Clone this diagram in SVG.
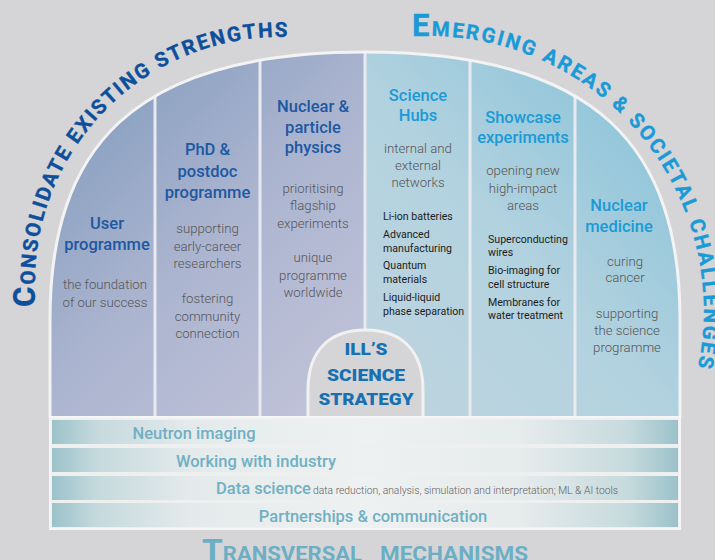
<svg xmlns="http://www.w3.org/2000/svg" width="715" height="560" viewBox="0 0 715 560">
  <defs>
    <style>
      text { font-family: Roboto, "Open Sans", "DejaVu Sans", sans-serif; }
      .ttlL { font-size: 16.5px; font-weight: 500; fill: #1d58a2; text-anchor: middle; }
      .ttlR { font-size: 16.5px; font-weight: 500; fill: #1b9ad6; text-anchor: middle; }
      .grey { font-size: 13.2px; font-weight: 300; fill: #565656; text-anchor: middle; }
      .list { font-size: 10.6px; font-weight: 400; fill: #1c1c1c; }
      .bar  { font-size: 16.5px; font-weight: 500; fill: #70b0c3; text-anchor: middle; }
      .note { font-size: 11px; font-weight: 300; fill: #5e5e5e; }
      .arcL { font-weight: 700; fill: #0e4f9c; stroke: #0e4f9c; stroke-width: 0.35; }
      .arcR { font-weight: 700; fill: #1a9ad7; stroke: #1a9ad7; stroke-width: 0.35; }
      .dome { font-size: 17px; font-weight: 900; fill: #1670b2; text-anchor: middle; }
      .sep  { stroke: #e8eaef; stroke-width: 3; }
    </style>
    <linearGradient id="gradLeft" gradientUnits="userSpaceOnUse" x1="60" y1="110" x2="360" y2="420">
      <stop offset="0" stop-color="#859ebf"/>
      <stop offset="0.45" stop-color="#abb4cf"/>
      <stop offset="1" stop-color="#c3c5da"/>
    </linearGradient>
    <linearGradient id="gradRight" gradientUnits="userSpaceOnUse" x1="680" y1="130" x2="380" y2="410">
      <stop offset="0" stop-color="#8cc4d9"/>
      <stop offset="0.5" stop-color="#b3d2df"/>
      <stop offset="1" stop-color="#bed4df"/>
    </linearGradient>
    <linearGradient id="gradBar" x1="0" y1="0" x2="1" y2="0">
      <stop offset="0" stop-color="#9bc2ca"/>
      <stop offset="0.07" stop-color="#c5d9dd"/>
      <stop offset="0.22" stop-color="#e4eaeb"/>
      <stop offset="0.5" stop-color="#eef1f1"/>
      <stop offset="0.75" stop-color="#e6ebec"/>
      <stop offset="0.92" stop-color="#c6dadd"/>
      <stop offset="1" stop-color="#9bc2ca"/>
    </linearGradient>
    <clipPath id="archClip">
      <path d="M50,418 L50,320 C50,150 130,52 365,52 C600,52 680,150 680,320 L680,418 Z"/>
    </clipPath>
    <!-- baselines for the curved headings -->
    <path id="leftArc" d="M35,330 L35,282 A245,245 0 0 1 280,37 L370,37"/>
    <path id="rightArc" d="M330,36 L429,36 A275,275 0 0 1 695,380"/>
  </defs>

  <rect width="715" height="560" fill="#d5d5d7"/>

  <!-- arch with the six pillars -->
  <g id="arch">
    <g clip-path="url(#archClip)">
      <rect x="50" y="40" width="315" height="380" fill="url(#gradLeft)"/>
      <rect x="365" y="40" width="315" height="380" fill="url(#gradRight)"/>
      <line class="sep" x1="155" y1="40" x2="155" y2="418"/>
      <line class="sep" x1="260" y1="40" x2="260" y2="418"/>
      <line class="sep" x1="365" y1="40" x2="365" y2="418"/>
      <line class="sep" x1="470" y1="40" x2="470" y2="418"/>
      <line class="sep" x1="575" y1="40" x2="575" y2="418"/>
    </g>
    <path d="M50,418 L50,320 C50,150 130,52 365,52 C600,52 680,150 680,320 L680,418" fill="none" stroke="#f3f3f3" stroke-width="3"/>
  </g>

  <g id="user-programme">
    <text class="ttlL" x="107" y="229">User</text>
    <text class="ttlL" x="107" y="250">programme</text>
    <text class="grey" x="105" y="289">the foundation</text>
    <text class="grey" x="105" y="307">of our success</text>
  </g>

  <g id="phd-postdoc">
    <text class="ttlL" x="207.5" y="155">PhD &amp;</text>
    <text class="ttlL" x="207.5" y="177">postdoc</text>
    <text class="ttlL" x="207.5" y="198">programme</text>
    <text class="grey" x="207.5" y="233">supporting</text>
    <text class="grey" x="207.5" y="251">early-career</text>
    <text class="grey" x="207.5" y="268">researchers</text>
    <text class="grey" x="207.5" y="303">fostering</text>
    <text class="grey" x="207.5" y="321">community</text>
    <text class="grey" x="207.5" y="338">connection</text>
  </g>

  <g id="nuclear-particle">
    <text class="ttlL" x="313" y="112">Nuclear &amp;</text>
    <text class="ttlL" x="313" y="133">particle</text>
    <text class="ttlL" x="313" y="153">physics</text>
    <text class="grey" x="313" y="193">prioritising</text>
    <text class="grey" x="313" y="210">flagship</text>
    <text class="grey" x="313" y="228">experiments</text>
    <text class="grey" x="313" y="262">unique</text>
    <text class="grey" x="313" y="280">programme</text>
    <text class="grey" x="313" y="297">worldwide</text>
  </g>

  <g id="science-hubs">
    <text class="ttlR" x="418" y="101">Science</text>
    <text class="ttlR" x="418" y="121">Hubs</text>
    <text class="grey" x="418" y="153">internal and</text>
    <text class="grey" x="418" y="170">external</text>
    <text class="grey" x="418" y="187">networks</text>
    <text class="list" x="383" y="220">Li-ion batteries</text>
    <text class="list" x="383" y="238">Advanced</text>
    <text class="list" x="383" y="252">manufacturing</text>
    <text class="list" x="383" y="269">Quantum</text>
    <text class="list" x="383" y="283">materials</text>
    <text class="list" x="383" y="301">Liquid-liquid</text>
    <text class="list" x="383" y="315">phase separation</text>
  </g>

  <g id="showcase-experiments">
    <text class="ttlR" x="523" y="123">Showcase</text>
    <text class="ttlR" x="523" y="143">experiments</text>
    <text class="grey" x="523" y="175">opening new</text>
    <text class="grey" x="523" y="193">high-impact</text>
    <text class="grey" x="523" y="210">areas</text>
    <text class="list" x="488" y="243">Superconducting</text>
    <text class="list" x="488" y="256">wires</text>
    <text class="list" x="488" y="274">Bio-imaging for</text>
    <text class="list" x="488" y="288">cell structure</text>
    <text class="list" x="488" y="306">Membranes for</text>
    <text class="list" x="488" y="319">water treatment</text>
  </g>

  <g id="nuclear-medicine">
    <text class="ttlR" x="619" y="211">Nuclear</text>
    <text class="ttlR" x="619" y="232">medicine</text>
    <text class="grey" x="625" y="266">curing</text>
    <text class="grey" x="625" y="282">cancer</text>
    <text class="grey" x="627" y="318">supporting</text>
    <text class="grey" x="627" y="335">the science</text>
    <text class="grey" x="627" y="352">programme</text>
  </g>

  <g id="strategy">
    <path d="M308,418 L308,390 C308,350 330,330 365.5,330 C401,330 423,350 423,390 L423,418 Z" fill="#d5d5d7" stroke="#f1f1f1" stroke-width="3"/>
    <text class="dome" x="366" y="355" textLength="43" lengthAdjust="spacingAndGlyphs">ILL’S</text>
    <text class="dome" x="366" y="381" textLength="78" lengthAdjust="spacingAndGlyphs">SCIENCE</text>
    <text class="dome" x="366" y="405" textLength="95" lengthAdjust="spacingAndGlyphs">STRATEGY</text>
  </g>

  <!-- transversal mechanisms band -->
  <g id="mechanisms">
    <rect x="50" y="417" width="630" height="112" fill="#eef0f0" stroke="#f6f6f6" stroke-width="2"/>
    <rect x="52" y="420" width="626" height="24" fill="url(#gradBar)"/>
    <rect x="52" y="448" width="626" height="24" fill="url(#gradBar)"/>
    <rect x="52" y="476" width="626" height="24" fill="url(#gradBar)"/>
    <rect x="52" y="503" width="626" height="24" fill="url(#gradBar)"/>
  </g>
  <g id="neutron-imaging">
    <text class="bar" x="194" y="439">Neutron imaging</text>
  </g>
  <g id="industry">
    <text class="bar" x="256" y="467">Working with industry</text>
  </g>
  <g id="data-science">
    <text class="bar" x="216" y="494" style="text-anchor:start">Data science</text>
    <text class="note" x="313" y="494" textLength="305" lengthAdjust="spacingAndGlyphs">data reduction, analysis, simulation and interpretation; ML &amp; AI tools</text>
  </g>
  <g id="partnerships">
    <text class="bar" x="373" y="522">Partnerships &amp; communication</text>
  </g>

  <!-- curved headings -->
  <g id="heading-consolidate">
    <text class="arcL">
      <textPath href="#leftArc" startOffset="23" textLength="417" lengthAdjust="spacing"><tspan font-size="31">C</tspan><tspan font-size="20.5">ONSOLIDATE EXISTING STRENGTHS</tspan></textPath>
    </text>
  </g>
  <g id="heading-emerging">
    <text class="arcR">
      <textPath href="#rightArc" startOffset="82" textLength="505" lengthAdjust="spacing"><tspan font-size="31">E</tspan><tspan font-size="20.5">MERGING AREAS &amp; SOCIETAL CHALLENGES</tspan></textPath>
    </text>
  </g>
  <g id="heading-transversal">
    <text x="202" y="561" font-weight="700" fill="#6cafc4" textLength="160" lengthAdjust="spacingAndGlyphs"><tspan font-size="32">T</tspan><tspan font-size="21">RANSVERSAL</tspan></text>
    <text x="380" y="561" font-weight="700" fill="#6cafc4" font-size="21" textLength="148" lengthAdjust="spacingAndGlyphs">MECHANISMS</text>
  </g>
</svg>
